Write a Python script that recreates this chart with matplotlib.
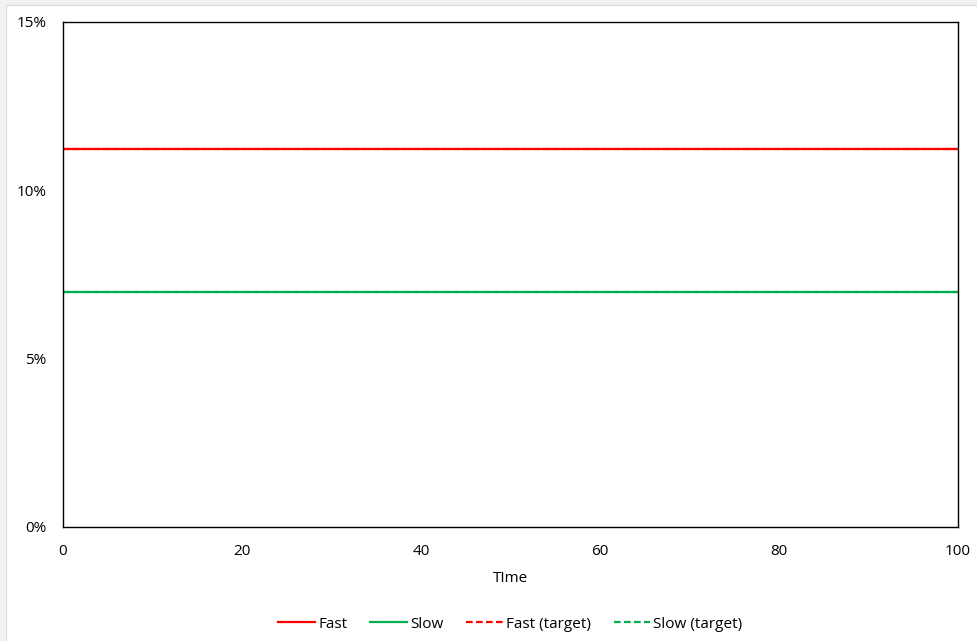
import numpy as np
import matplotlib.pyplot as plt
from matplotlib.patches import Rectangle
from matplotlib.ticker import PercentFormatter

# data
time = [0, 100]
fast = [0.1123, 0.1123]
slow = [0.0698, 0.0698]
fast_target = [0.1123, 0.1123]
slow_target = [0.0698, 0.0698]

plt.rcParams['font.family'] = ['Open Sans', 'DejaVu Sans']

fig = plt.figure(figsize=(9.77, 6.41), dpi=100, facecolor='#f2f2f2')
# white chart area (behind the axes)
fig.patches.append(Rectangle((6 / 977, 0), 1, 1 - 5 / 641, transform=fig.transFigure,
                             facecolor='white', edgecolor='#d9d9d9', linewidth=0.8, zorder=-10))

ax = fig.add_axes([63 / 977, 1 - 527 / 641, (958 - 63) / 977, (527 - 22) / 641])
ax.set_facecolor('white')

ax.plot(time, fast, color='#ff0000', lw=1.6, label='Fast')
ax.plot(time, slow, color='#00b050', lw=1.6, label='Slow')
ax.plot(time, fast_target, color='#ff0000', lw=1.6, ls=(0, (3, 1.5)), label='Fast (target)')
ax.plot(time, slow_target, color='#00b050', lw=1.6, ls=(0, (3, 1.5)), label='Slow (target)')

ax.set_xlim(0, 100)
ax.set_ylim(0, 0.15)
ax.set_xticks(np.arange(0, 101, 20))
ax.set_yticks([0, 0.05, 0.10, 0.15])
ax.yaxis.set_major_formatter(PercentFormatter(1.0, decimals=0))
ax.tick_params(length=0, labelsize=11, colors='#000000')
ax.tick_params(axis='x', pad=12)
ax.tick_params(axis='y', pad=12)
for s in ax.spines.values():
    s.set_color('#000000')
    s.set_linewidth(1.0)

ax.set_xlabel('TIme', fontsize=11, labelpad=9)

ax.legend(loc='upper center', bbox_to_anchor=(0.5, -0.15), ncol=4, frameon=False,
          fontsize=11, handlelength=2.4, handletextpad=0.2, columnspacing=1.5)

fig.savefig('out.png', dpi=100, facecolor=fig.get_facecolor())
